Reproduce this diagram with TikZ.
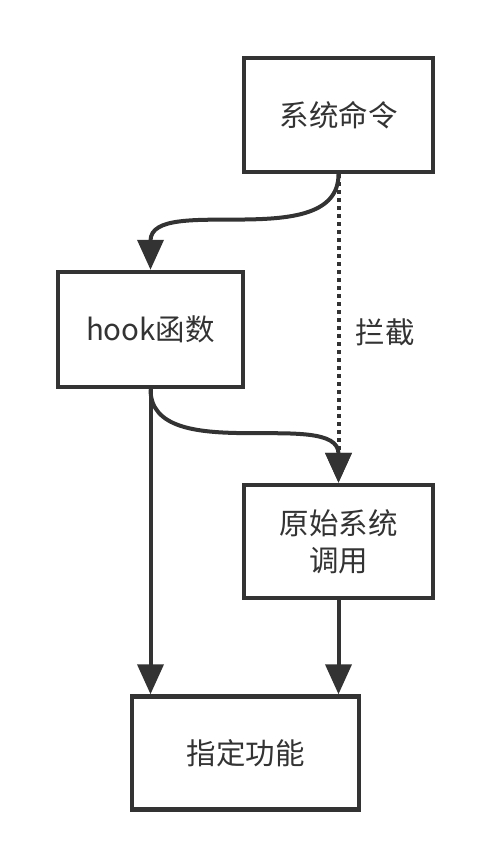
\documentclass[tikz,border=0pt]{standalone}
\usepackage{fontspec}
\setmainfont{Noto Sans CJK SC}
\usetikzlibrary{arrows.meta,positioning}

\begin{document}
\begin{tikzpicture}[x=1pt,y=-1pt,line cap=butt,
    every node/.style={font=\fontsize{29.5}{37}\selectfont,text=black!80},
    box/.style={draw=black!80,line width=4.5pt,align=center,inner sep=0pt},
    link/.style={draw=black!80,line width=4pt,-{Triangle[length=30pt,width=26pt]}}]
  \useasboundingbox (0,0) rectangle (503,865);
  \node[box,minimum width=189,minimum height=114] (cmd) at (338.5,115) {系统命令};
  \node[box,minimum width=185,minimum height=115] (hook) at (150.5,329.5) {hook函数};
  \node[box,minimum width=189,minimum height=113] (orig) at (338.5,541.5) {原始系统\\调用};
  \node[box,minimum width=227,minimum height=113] (func) at (245.5,753) {指定功能};
  \node (cut) at (385,332) {拦截};
  \draw[link,line width=4pt,dash pattern=on 4pt off 4pt] (cmd.south) -- (orig.north);
  \draw[link] (cmd.south) .. controls +(0,80) and +(0,-77) .. (hook.north);
  \draw[link] (hook.south) .. controls +(0,78) and +(0,-76) .. (orig.north);
  \draw[link] (hook.south) -- (hook.south |- func.north);
  \draw[link] (orig.south) -- (orig.south |- func.north);
\end{tikzpicture}
\end{document}
